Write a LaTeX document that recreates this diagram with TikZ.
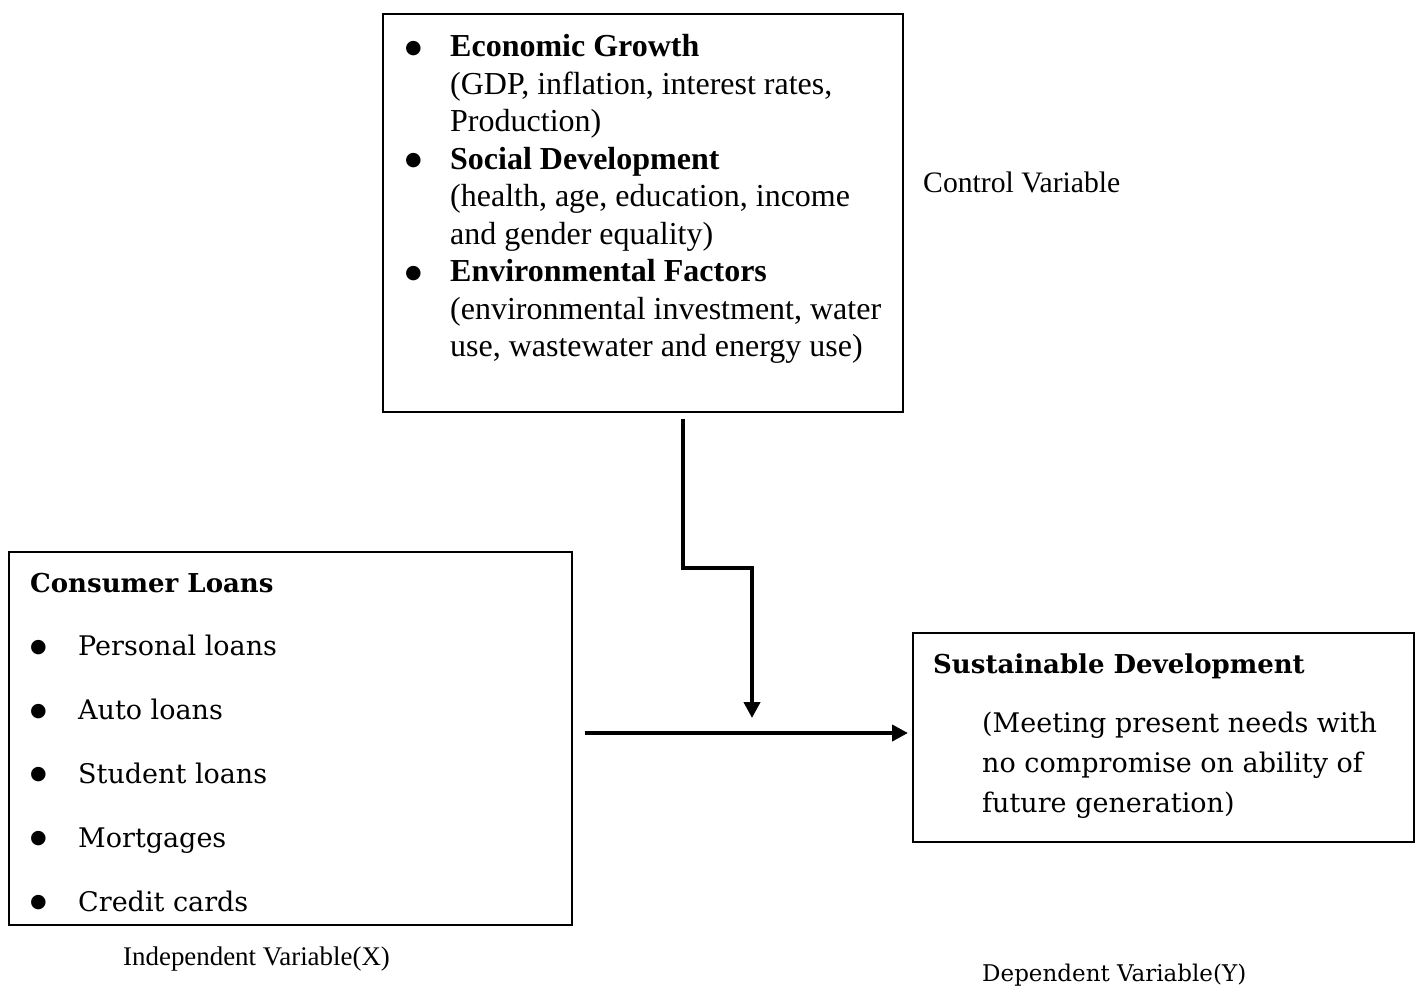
\documentclass[tikz,border=0pt]{standalone}
\usepackage{fontspec}
\setmainfont{Liberation Serif}
\newfontfamily\bodyfont{DejaVu Serif}
\newfontfamily\dotfont{DejaVu Sans}
\newcommand{\dotmark}{\raisebox{3.5pt}{\dotfont\fontsize{19}{19}\selectfont\char"25CF}}
\usepackage{tikz}
\usetikzlibrary{calc}
\usetikzlibrary{positioning}
\usetikzlibrary{arrows.meta}

\begin{document}
\begin{tikzpicture}[
		x=1pt, y=-1pt,
		box/.style={rectangle, draw=black, line width=1.6pt, anchor=north west, inner sep=0pt},
		flow/.style={-{Triangle[length=16pt, width=16pt]}, draw=black, line width=4pt},
		text box/.style={anchor=base west, inner sep=0pt},
	]
	\useasboundingbox (0,0) rectangle (1419,987);
	% Boxes
	\node[box, minimum width=520pt, minimum height=398pt] (control box) at (382,13) {};
	\node[box, minimum width=563pt, minimum height=373pt] (loans box) at (8,551) {};
	\node[box, minimum width=501pt, minimum height=209pt] (sustain box) at (912,632) {};
	% Control variables
	\node[text box, font=\fontsize{32}{37.5}\selectfont] (control list) at (405,57) {%
		\begin{tabular}[t]{@{}p{45pt}@{}l@{}}
			\dotmark & \textbf{Economic Growth}\\
			& (GDP, inflation, interest rates,\\
			& Production)\\
			\dotmark & \textbf{Social Development}\\
			& (health, age, education, income\\
			& and gender equality)\\
			\dotmark & \textbf{Environmental Factors}\\
			& (environmental investment, water\\
			& use, wastewater and energy use)
		\end{tabular}};
	\node[text box, font=\fontsize{29.7}{34}\selectfont] (control label) at (923,193) {Control Variable};
	% Independent variable
	\node[text box, font=\bodyfont\fontsize{27}{63.8}\selectfont] (loans list) at (30,592) {%
		\begin{tabular}[t]{@{}p{48pt}@{}l@{}}
			\multicolumn{2}{@{}l@{}}{\bfseries\fontsize{26}{63.8}\selectfont Consumer Loans}\\
			\dotmark & Personal loans\\
			\dotmark & Auto loans\\
			\dotmark & Student loans\\
			\dotmark & Mortgages\\
			\dotmark & Credit cards
		\end{tabular}};
	\node[text box, font=\fontsize{26.9}{31}\selectfont] (x label) at (123,965) {Independent Variable(X)};
	% Dependent variable
	\node[text box, font=\bodyfont\bfseries\fontsize{26}{40}\selectfont] (sustain title) at (933,673) {Sustainable Development};
	\node[text box, font=\bodyfont\fontsize{27}{40}\selectfont] (sustain text) at (982,732) {%
		\begin{tabular}[t]{@{}l@{}}
			(Meeting present needs with\\
			no compromise on ability of\\
			future generation)
		\end{tabular}};
	\node[text box, font=\bodyfont\fontsize{23}{27}\selectfont] (y label) at (982,981) {Dependent Variable(Y)};
	% Arrows
	\coordinate (link) at (752,733);
	\coordinate (turn) at (752,568);
	\draw[flow] ($(control box.south)+(40,6)$) |- (turn) -- ($(link)+(0,-15)$);
	\draw[flow] ($(loans box.east |- link)+(12,0)$) -- ($(sustain box.west |- link)+(-4,0)$);
\end{tikzpicture}
\end{document}
